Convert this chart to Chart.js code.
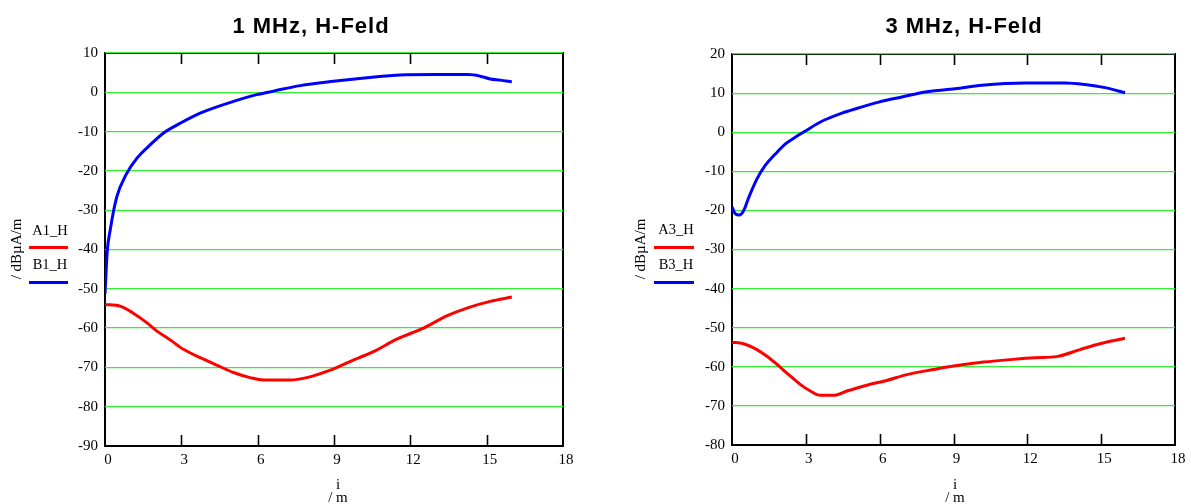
<!DOCTYPE html>
<html><head><meta charset="utf-8">
<script src="https://cdn.jsdelivr.net/npm/chart.js@4.4.1/dist/chart.umd.min.js"></script>
<style>
html,body{margin:0;padding:0;background:#fff;width:1191px;height:504px;overflow:hidden;}
#wrap{position:relative;width:1191px;height:504px;}
canvas{position:absolute;top:0;}
.t{position:absolute;white-space:nowrap;line-height:1;color:#000;transform:translate(-50%,-50%);}
.title{font:bold 22px "Liberation Sans",Arial,sans-serif;letter-spacing:1px;}
.serif{font-family:"Liberation Serif","Times New Roman",serif;font-size:15px;}
.leg{font-family:"Liberation Serif","Times New Roman",serif;font-size:14.5px;}
.rot{transform:translate(-50%,-50%) rotate(-90deg);}
.sw{position:absolute;height:3px;}
</style>
</head><body>
<div id="wrap">
  <canvas id="c1" width="595" height="504" style="left:0px"></canvas>
  <canvas id="c2" width="595" height="504" style="left:596px"></canvas>

  <div class="t title" style="left:311px;top:26px">1 MHz, H-Feld</div>
  <div class="t title" style="left:964px;top:26px">3 MHz, H-Feld</div>

  <div class="t serif rot" style="left:16px;top:249px">/ dBµA/m</div>
  <div class="t serif rot" style="left:640px;top:249px">/ dBµA/m</div>

  <div class="t leg" style="left:50px;top:230px">A1_H</div>
  <div class="sw" style="left:29px;top:246px;width:39px;background:#ff0000"></div>
  <div class="t leg" style="left:50px;top:264px">B1_H</div>
  <div class="sw" style="left:29px;top:281px;width:39px;background:#0000ff"></div>

  <div class="t leg" style="left:676px;top:229px">A3_H</div>
  <div class="sw" style="left:654px;top:246px;width:40px;background:#ff0000"></div>
  <div class="t leg" style="left:676px;top:264px">B3_H</div>
  <div class="sw" style="left:654px;top:281px;width:40px;background:#0000ff"></div>

  <div class="t serif" style="left:338px;top:484px">i</div>
  <div class="t serif" style="left:338px;top:497px">/ m</div>
  <div class="t serif" style="left:955px;top:484px">i</div>
  <div class="t serif" style="left:955px;top:497px">/ m</div>
</div>
<script>
// ---- data ----
// 1 MHz chart
const xA1 = [0, 0.59, 1.11, 1.64, 2.03, 2.56, 3.08, 3.74, 4.39, 5.05, 5.7, 6.23, 7.27, 7.93, 8.85, 9.63, 10.55, 11.47, 12.52, 13.43, 14.22, 15.14, 15.99];
const yA1 = [-54, -54.4, -56.2, -58.6, -60.7, -63, -65.4, -67.5, -69.4, -71.3, -72.6, -73.2, -73.2, -72.6, -70.7, -68.5, -66, -62.8, -60, -56.9, -54.9, -53.2, -52.1];
const xB1 = [0, 0.09, 0.2, 0.46, 0.85, 1.25, 1.77, 2.29, 2.95, 3.74, 5.05, 5.96, 6.62, 7.67, 8.98, 10.29, 11.6, 12.91, 14.29, 14.74, 15.14, 15.53, 15.99];
const yB1 = [-51.3, -40.3, -35.2, -26.7, -20.7, -16.8, -13.4, -10.4, -7.9, -5.3, -2.3, -0.6, 0.3, 1.7, 2.8, 3.7, 4.4, 4.5, 4.5, 4.1, 3.4, 3.1, 2.65];
// 3 MHz chart
const xA3 = [0, 0.47, 1.01, 1.42, 1.83, 2.3, 2.77, 3.18, 3.59, 4.13, 4.67, 5.48, 6.29, 7.1, 8.19, 9.0, 10.22, 11.43, 12.31, 13.19, 14.14, 14.95, 15.97];
const yA3 = [-53.7, -54.1, -55.6, -57.3, -59.4, -62, -64.5, -66.2, -67.3, -67.3, -66.2, -64.7, -63.5, -62, -60.7, -59.8, -58.8, -58.1, -57.7, -57.4, -55.6, -54.1, -52.7];
const xB3 = [0, 0.14, 0.3, 0.47, 0.68, 1.01, 1.35, 1.76, 2.17, 2.57, 2.98, 3.65, 4.47, 5.14, 5.96, 6.9, 7.85, 9.07, 10.15, 11.91, 13.54, 14.34, 15.16, 15.97];
const yB3 = [-19.1, -20.9, -21.2, -20.1, -16.7, -12, -8.5, -5.6, -3, -1.3, 0.3, 2.8, 4.9, 6.2, 7.7, 9, 10.3, 11.1, 12, 12.6, 12.6, 12.2, 11.4, 10.1];

const xTicks = [0, 3, 6, 9, 12, 15, 18];
const yTicks1 = [-90, -80, -70, -60, -50, -40, -30, -20, -10, 0, 10];
const yTicks3 = [-80, -70, -60, -50, -40, -30, -20, -10, 0, 10, 20];

function pts(xs, ys){ return xs.map((x, i) => ({x: x, y: ys[i]})); }

const framePlugin = {
  id: 'frame',
  beforeDraw(chart){
    const ctx = chart.ctx, a = chart.chartArea, xs = chart.scales.x;
    ctx.save();
    ctx.strokeStyle = '#000';
    ctx.lineWidth = 2;
    ctx.strokeRect(a.left, a.top, a.right - a.left, a.bottom - a.top);
    ctx.lineWidth = 1.6;
    xs.ticks.forEach(t => {
      if (t.value <= xs.min || t.value >= xs.max) return;
      const px = Math.round(xs.getPixelForValue(t.value)) + 0.5;
      ctx.beginPath();
      ctx.moveTo(px, a.bottom); ctx.lineTo(px, a.bottom - 11);
      ctx.moveTo(px, a.top); ctx.lineTo(px, a.top + 11);
      ctx.stroke();
    });
    ctx.restore();
  }
};

function makeChart(id, dsA, dsB, yTicks, geom){
  const yMin = yTicks[0], yMax = yTicks[yTicks.length - 1];
  const serif = {family: '"Liberation Serif","Times New Roman",serif', size: 15};
  return new Chart(document.getElementById(id), {
    type: 'line',
    data: {
      datasets: [
        {data: dsA, borderColor: '#ff0000', borderWidth: 3, pointRadius: 0, cubicInterpolationMode: 'monotone', fill: false},
        {data: dsB, borderColor: '#0000ff', borderWidth: 3, pointRadius: 0, cubicInterpolationMode: 'monotone', fill: false}
      ]
    },
    options: {
      responsive: false,
      animation: false,
      devicePixelRatio: 1,
      layout: {padding: {left: 0, top: geom.top, right: geom.right, bottom: 0}},
      plugins: {legend: {display: false}, tooltip: {enabled: false}, title: {display: false}},
      scales: {
        x: {
          type: 'linear', min: xTicks[0], max: xTicks[xTicks.length - 1],
          afterBuildTicks: s => { s.ticks = xTicks.map(v => ({value: v})); },
          afterFit: s => { s.height = geom.xh; },
          grid: {display: false, drawTicks: false},
          border: {display: false},
          ticks: {font: serif, color: '#000', padding: 5, labelOffset: 3, autoSkip: false, maxRotation: 0,
                  callback: v => String(v)}
        },
        y: {
          type: 'linear', min: yMin, max: yMax,
          afterBuildTicks: s => { s.ticks = yTicks.map(v => ({value: v})); },
          afterFit: s => { s.width = geom.yw; },
          grid: {drawTicks: false, lineWidth: 1.2,
                 color: c => (c.tick && c.tick.value === yMin) ? 'rgba(0,0,0,0)' : '#33ee33'},
          border: {display: false},
          ticks: {font: serif, color: '#000', padding: 7, autoSkip: false,
                  callback: v => v < 0 ? '-' + Math.abs(v) : String(v)}
        }
      }
    },
    plugins: [framePlugin]
  });
}

makeChart('c1', pts(xA1, yA1), pts(xB1, yB1), yTicks1, {top: 53, right: 32, xh: 58, yw: 105});
makeChart('c2', pts(xA3, yA3), pts(xB3, yB3), yTicks3, {top: 54, right: 16, xh: 59, yw: 136});
</script>
</body></html>
